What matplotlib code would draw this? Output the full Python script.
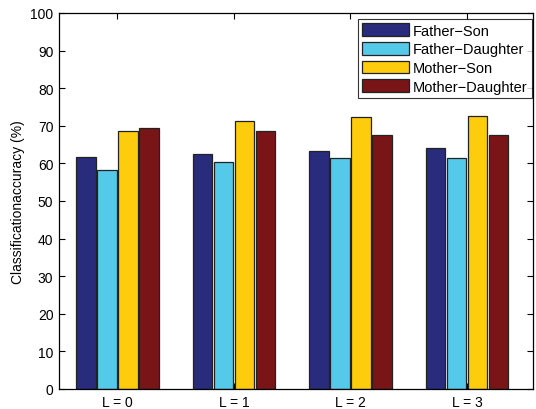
import numpy as np
import matplotlib
matplotlib.use("Agg")
import matplotlib.pyplot as plt

plt.rcParams['font.family'] = ['Liberation Sans', 'DejaVu Sans']

# values
groups = ['L = 0', 'L = 1', 'L = 2', 'L = 3']
series = ['Father\u2212Son', 'Father\u2212Daughter', 'Mother\u2212Son', 'Mother\u2212Daughter']
father_son = [61.7, 62.5, 63.4, 64.0]
father_daughter = [58.3, 60.3, 61.4, 61.4]
mother_son = [68.6, 71.2, 72.4, 72.6]
mother_daughter = [69.3, 68.6, 67.6, 67.6]
colors = ['#292C7C', '#55C9E9', '#FDCC0D', '#7A1517']

values = [father_son, father_daughter, mother_son, mother_daughter]

fig = plt.figure(figsize=(5.36, 4.10), dpi=100)
ax = fig.add_axes([0.110, 0.0488, 0.8844, 0.9172])

x = np.arange(1, len(groups) + 1)
pitch = 0.18
width = 0.168
for i, (vals, name, col) in enumerate(zip(values, series, colors)):
    off = (i - 1.5) * pitch
    ax.bar(x + off, vals, width, color=col, edgecolor='#222222',
           linewidth=0.9, label=name, zorder=2)

ax.set_xlim(0.5, 4.565)
ax.set_ylim(0, 100)
ax.set_xticks(x)
ax.set_xticklabels(groups)
ax.set_yticks(np.arange(0, 101, 10))
ax.set_ylabel('Classificationaccuracy (%)', fontsize=10, labelpad=4)
ax.tick_params(direction='in', length=4, width=0.8, labelsize=10,
               top=True, right=True, pad=4)
for s in ax.spines.values():
    s.set_linewidth(0.9)

leg = ax.legend(loc='upper right', bbox_to_anchor=(0.998, 0.984),
                fontsize=10.5, frameon=True, fancybox=False,
                edgecolor='black', handlelength=3.2, handleheight=0.95,
                labelspacing=0.3, borderpad=0.3, handletextpad=0.3,
                borderaxespad=0)
leg.get_frame().set_linewidth(0.8)
for h in leg.legend_handles:
    h.set_edgecolor('#222222')

fig.savefig('out.png', dpi=100)
